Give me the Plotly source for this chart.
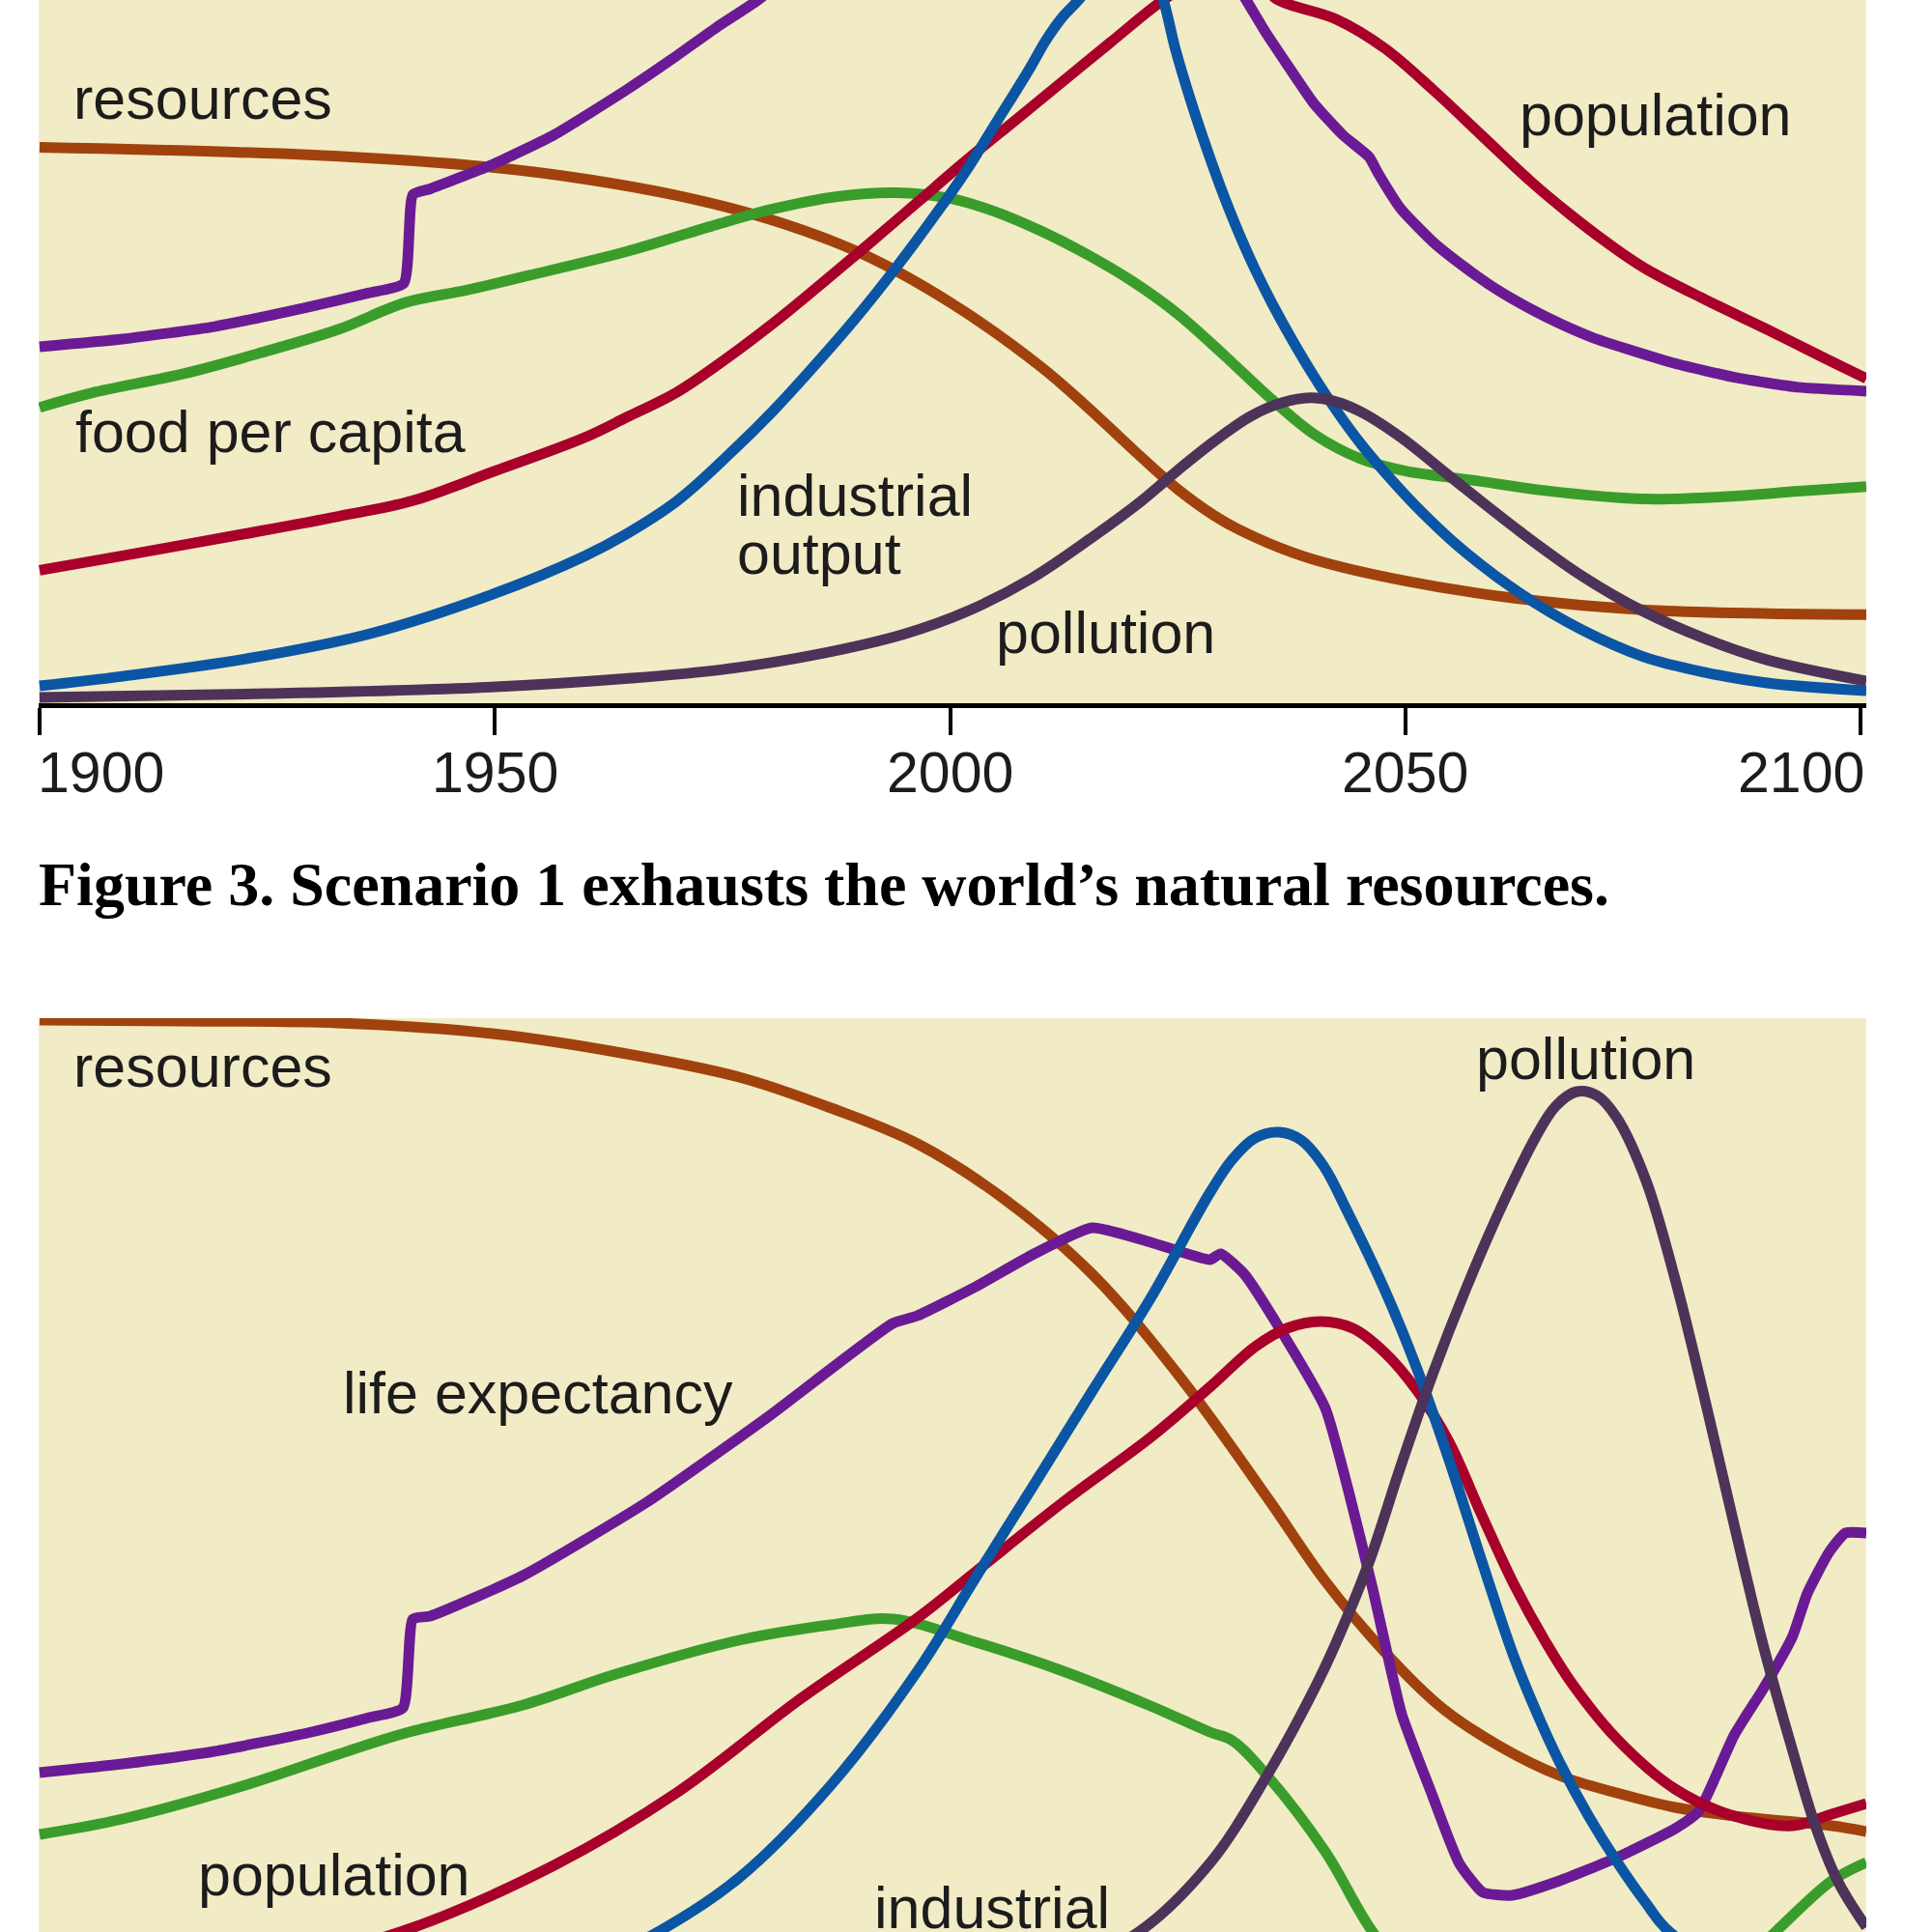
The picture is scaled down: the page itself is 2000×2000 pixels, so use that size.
import plotly.graph_objects as go

# ---------------- Panel 1: Scenario 1 (upper chart) ----------------
p1_resources_year = [1900, 1930, 1950, 1960, 1970, 1980, 1990, 2000, 2010, 2015, 2020, 2025, 2030, 2035,
                     2040, 2050, 2062, 2076, 2090, 2100.6]
p1_resources_val = [57.7, 56.9, 55.6, 54.4, 52.7, 50.3, 46.8, 41.6, 34.9, 30.8, 26.4, 22.2, 18.9, 16.6,
                    14.9, 12.7, 10.9, 9.7, 9.3, 9.2]

p1_life_year = [1900, 1909.1, 1919.2, 1929.4, 1936.2, 1940.0, 1941.0, 1942.9, 1949.7, 1956.5, 1964.5,
                1969.5, 1974.4, 1978.9, 1988, 1998, 2008, 2018, 2027, 2032.5, 2034.6, 2037.0, 2039.9,
                2043.1, 2046.0, 2047.0, 2049.5, 2053.0, 2056.6, 2060.1, 2063.6, 2067.2, 2070.7, 2079.5,
                2086.3, 2093.1, 2100.6]
p1_life_val = [37.0, 37.8, 39.1, 41.1, 42.6, 43.6, 52.8, 53.4, 55.9, 59.0, 63.7,
               66.9, 70.2, 73.0, 80, 86, 89, 88, 81, 73.0, 69.7, 66.3, 62.3,
               59.0, 56.7, 55.0, 51.3, 47.9, 45.2, 42.9, 41.0, 39.3, 37.9, 35.3,
               33.8, 32.8, 32.4]

p1_food_year = [1900, 1905.7, 1915.8, 1924.0, 1932.8, 1940.2, 1947.0, 1953.7, 1964.5, 1974.4, 1980.5,
                1987.6, 1994.0, 2000, 2005, 2010, 2015, 2020, 2025, 2030, 2035, 2040, 2045, 2050, 2057,
                2066.0, 2076.2, 2086.3, 2093.1, 2100.6]
p1_food_val = [30.7, 32.2, 34.2, 36.3, 38.8, 41.6, 42.9, 44.4, 46.9, 49.7, 51.3,
               52.6, 53.0, 52.4, 51.0, 49.0, 46.6, 43.8, 40.4, 36.2, 31.8, 27.9, 25.4, 24.1, 23.2,
               22.0, 21.2, 21.5, 22.0, 22.5]

p1_pop_year = [1900, 1909.1, 1922.6, 1932.8, 1940.9, 1949.7, 1959.9, 1964.5, 1970, 1975, 1980.5, 1985.8,
               1991.1, 1996.4, 2001.7, 2007.0, 2012.3, 2017.6, 2023.4, 2027, 2030.5, 2034, 2036.0,
               2042.4, 2047.7, 2053.0, 2058.3, 2063.6, 2068, 2072, 2076.2, 2082.9, 2089.7, 2096.5, 2100.6]
p1_pop_val = [13.8, 15.3, 17.6, 19.4, 21.0, 24.0, 27.6, 29.7, 32.3, 35.5, 39.4, 43.5,
              47.7, 52.0, 56.3, 60.4, 64.5, 68.6, 73.0, 75.0, 75.6, 74.6, 73.0,
              71.0, 68.0, 63.7, 59.0, 54.3, 50.8, 47.9, 45.2, 41.9, 38.8, 35.6, 33.7]

p1_ind_year = [1900, 1909.1, 1922.6, 1936.2, 1949.7, 1959.9, 1964.5, 1970, 1975, 1980.5, 1984.3, 1989.3,
               1994.2, 1999.2, 2001.7, 2005.2, 2008.8, 2010.5, 2012.3, 2014.1, 2017, 2019.5, 2021.5,
               2023.4, 2024.7, 2026.4, 2028.2, 2030.0, 2031.7, 2033.5, 2035.4, 2037.5, 2039.9, 2042.4,
               2045.2, 2047.7, 2051, 2055.8, 2062.6, 2069.4, 2076.2, 2082.9, 2089.7, 2100.6]
p1_ind_val = [1.8, 2.8, 4.6, 7.2, 11.3, 15.3, 17.6, 21.0, 25.2, 30.3, 34.2, 39.6,
              45.4, 51.8, 55.2, 60.5, 66.0, 68.8, 71.2, 73.0, 76.5, 78.5, 77.8,
              73.0, 68.0, 62.6, 57.5, 52.8, 48.8, 45.0, 41.4, 37.8, 34.0, 30.4,
              26.8, 24.0, 20.6, 16.3, 11.4, 7.6, 4.8, 3.2, 2.1, 1.3]

p1_poll_year = [1900, 1925, 1950, 1965, 1975, 1985, 1995, 2002, 2009, 2016, 2021, 2025, 2029, 2033,
                2036.5, 2039.5, 2042, 2045, 2049.5, 2054.8, 2062.6, 2069.4, 2076.2, 2082.9, 2089.7, 2100.6]
p1_poll_val = [0.6, 1.0, 1.7, 2.6, 3.5, 5.0, 7.2, 9.6, 13.0, 17.5, 21.0, 24.2, 27.2, 29.8,
               31.2, 31.7, 31.4, 30.3, 27.6, 23.6, 17.8, 13.2, 9.5, 6.7, 4.5, 2.3]

# ---------------- Panel 2: lower chart ----------------
p2_resources_year = [1900, 1915.8, 1932.8, 1949.7, 1963.3, 1976.8, 1986.9, 1996.4, 2005.9, 2015.6, 2025.2,
                     2034.8, 2041.2, 2047.7, 2054.0, 2060.4, 2066.9, 2073.2, 2079.6, 2086.1, 2096.8, 2100.6]
p2_resources_val = [104.4, 104.3, 104.1, 103.0, 101.1, 98.5, 95.3, 91.6, 85.9, 78.1, 67.5,
                    55.0, 46.3, 39.0, 33.2, 29.2, 26.2, 24.4, 22.9, 22.0, 21.0, 20.4]

p2_life_year = [1900, 1909.1, 1919.2, 1929.4, 1936.2, 1939.9, 1941.0, 1942.9, 1953.1, 1966.7, 1980.1,
                1993.7, 1996.4, 2002.8, 2009.2, 2015.6, 2022.0, 2028.5, 2029.7, 2032.3, 2036.1, 2041.2,
                2043.7, 2046.4, 2049.6, 2052.8, 2055.9, 2058.5, 2061.7, 2066.9, 2073.2, 2079.6, 2082.2,
                2086.1, 2089.3, 2092.5, 2094.1, 2096.5, 2098.3, 2100.6]
p2_life_val = [26.5, 27.4, 28.7, 30.6, 32.2, 33.2, 42.4, 42.7, 46.9, 54.5, 63.4,
               73.0, 73.8, 76.8, 80.2, 82.9, 81.4, 79.6, 80.2, 78.1, 72.6, 64.2,
               55.8, 45.5, 32.5, 24.5, 17.1, 14.1, 13.8, 15.3, 17.7, 20.7, 22.5,
               30.4, 35.2, 40.6, 45.0, 49.3, 51.3, 51.3]

p2_food_year = [1900, 1909.1, 1922.6, 1932.8, 1940.2, 1953.1, 1963.3, 1976.8, 1986.9, 1993.7, 2002.8,
                2012.4, 2022.0, 2028.5, 2031.0, 2034.8, 2041.2, 2046.4, 2052, 2060, 2070, 2080, 2086,
                2090.6, 2096.8, 2100.6]
p2_food_val = [20.1, 21.7, 25.2, 28.4, 30.6, 33.5, 36.7, 40.2, 41.8, 42.4, 40.0,
               37.0, 33.4, 30.7, 29.8, 26.2, 18.3, 10.0, 4, 0, -1, 2, 6,
               10.0, 15.3, 17.2]

p2_pop_year = [1900, 1920, 1939.6, 1956.5, 1970.1, 1983.5, 1996.4, 2002.8, 2012.4, 2022.0, 2028.5,
               2033.5, 2037.0, 2040.7, 2044.2, 2047.7, 2051.3, 2054.8, 2058.3, 2061.9, 2065.4, 2068.3,
               2073.2, 2079.6, 2086.1, 2092.5, 2096.8, 2100.6]
p2_pop_val = [2, 5.5, 10.0, 16.9, 24.5, 34.1, 42.5, 47.3, 54.5, 61.2, 66.4,
              70.6, 72.5, 73.2, 72.5, 70.0, 66.0, 60.7, 53.3, 46.0, 40.0, 35.7,
              30.0, 24.8, 22.0, 21.0, 22.2, 23.3]

p2_ind_year = [1900, 1930, 1950, 1960, 1967.9, 1976.8, 1986.9, 1996.4, 2002.8, 2009.2, 2015.6,
               2022.0, 2028.5, 2031.0, 2033.5, 2036.1, 2038.5, 2041.0, 2043.5, 2047.7, 2051.3, 2054.8,
               2058.3, 2061.9, 2064.5, 2066.9, 2070.1, 2073.2, 2076.4, 2079.0, 2090, 2100.6]
p2_ind_val = [1, 2, 4, 6.5, 10.0, 15.6, 25.2, 37.0, 46.7, 56.3, 66.0,
              75.6, 86.5, 90.0, 92.2, 92.8, 92.0, 89.3, 84.8, 76.5, 68.2, 58.8,
              48.6, 38.5, 32.5, 27.6, 22.0, 17.3, 13.0, 10.0, 4, 2]

p2_poll_year = [1900, 1950, 1990, 2005, 2014, 2020.7, 2028.5, 2034.8, 2039.9, 2042.4, 2046.0,
                2049.5, 2053.0, 2056.6, 2060.4, 2064.3, 2066.5, 2068.8, 2071.0, 2073.2, 2076.4, 2079.6,
                2082.8, 2086.1, 2089.3, 2092.5, 2095.0, 2097.5, 2100.6]
p2_poll_val = [0.5, 1, 2.5, 4.5, 7, 10.0, 17.1, 26.2, 35.0, 40.0, 48.3,
               58.3, 67.8, 76.5, 84.8, 92.3, 95.5, 97.0, 96.6, 94.3, 87.8, 77.6,
               65.4, 52.1, 39.6, 28.8, 21.0, 15.2, 10.5]

tick_years = [1900, 1950, 2000, 2050, 2100]
tick_text = ["1900", "1950", "2000", "2050", "2100"]
caption = "Figure 3. Scenario 1 exhausts the world\u2019s natural resources."

# labels: (text, year, value)
p1_labels = [("resources", 1903.5, 62.8), ("food per capita", 1903.7, 28.2),
             ("industrial", 1976.4, 21.6), ("output", 1976.4, 15.5),
             ("pollution", 2004.8, 7.3), ("population", 2062.3, 61.1)]
p2_labels = [("resources", 1903.5, 99.6), ("life expectancy", 1933.1, 65.8),
             ("population", 1917.2, 15.9), ("industrial", 1991.4, 12.5),
             ("pollution", 2057.5, 100.4)]

# ---------------- styling ----------------
C_RES = "#A1420E"
C_FOOD = "#3A9D2B"
C_LIFE = "#6B1A95"
C_POP = "#A8002B"
C_IND = "#0B55A5"
C_POLL = "#4D3359"
BG = "#F1ECC5"
LW = 11

fig = go.Figure()

def add(xs, ys, color, xa, ya, smooth=1.0):
    fig.add_trace(go.Scatter(x=xs, y=ys, mode="lines", xaxis=xa, yaxis=ya,
                             line=dict(color=color, width=LW, shape="spline", smoothing=smooth),
                             hoverinfo="skip", showlegend=False))

for xa, ya, d in [("x", "y", dict(res=(p1_resources_year, p1_resources_val), food=(p1_food_year, p1_food_val),
                                  life=(p1_life_year, p1_life_val), pop=(p1_pop_year, p1_pop_val),
                                  ind=(p1_ind_year, p1_ind_val), poll=(p1_poll_year, p1_poll_val))),
                  ("x2", "y2", dict(res=(p2_resources_year, p2_resources_val), food=(p2_food_year, p2_food_val),
                                    life=(p2_life_year, p2_life_val), pop=(p2_pop_year, p2_pop_val),
                                    ind=(p2_ind_year, p2_ind_val), poll=(p2_poll_year, p2_poll_val)))]:
    add(*d["res"], C_RES, xa, ya)
    add(*d["food"], C_FOOD, xa, ya)
    add(*d["life"], C_LIFE, xa, ya, smooth=0.5)
    add(*d["pop"], C_POP, xa, ya)
    add(*d["ind"], C_IND, xa, ya)
    add(*d["poll"], C_POLL, xa, ya)

XR = [1899.9, 2100.6]
fig.update_layout(
    width=2000, height=2000,
    margin=dict(l=40, r=68, t=0, b=0),
    paper_bgcolor="white", plot_bgcolor=BG,
    xaxis=dict(domain=[0, 1], anchor="y", range=XR, showgrid=False, zeroline=False,
               showline=True, linecolor="black", linewidth=5,
               ticks="outside", ticklen=28, tickwidth=4, tickcolor="black",
               tickvals=tick_years, showticklabels=False),
    yaxis=dict(domain=[0.636, 1.0], anchor="x", range=[0, 73.0], visible=False),
    xaxis2=dict(domain=[0, 1], anchor="y2", range=XR, visible=False),
    yaxis2=dict(domain=[0, 0.473], anchor="x2", range=[10, 104.6], visible=False),
)

ann = []
LBL_FONT = dict(family="Liberation Sans, Arial, sans-serif", size=61, color="#1c1c1c")
for t, xv, yv in p1_labels:
    ann.append(dict(text=t, x=xv, y=yv, xref="x", yref="y", xanchor="left", yanchor="middle",
                    showarrow=False, font=LBL_FONT))
for t, xv, yv in p2_labels:
    ann.append(dict(text=t, x=xv, y=yv, xref="x2", yref="y2", xanchor="left", yanchor="middle",
                    showarrow=False, font=LBL_FONT))
for i, (tv, tt) in enumerate(zip(tick_years, tick_text)):
    anchor = "left" if i == 0 else ("right" if i == len(tick_years) - 1 else "center")
    ann.append(dict(text=tt, x=tv, y=0.6, xref="x", yref="paper", xanchor=anchor, yanchor="middle",
                    xshift=(-4 if i == 0 else (6 if i == len(tick_years) - 1 else 0)),
                    showarrow=False,
                    font=dict(family="Liberation Sans, Arial, sans-serif", size=59, color="#1c1c1c")))
ann.append(dict(text="<b>" + caption + "</b>", x=-0.001, y=0.5425, xref="paper", yref="paper",
                xanchor="left", yanchor="middle", showarrow=False,
                font=dict(family="Liberation Serif, Times New Roman, serif", size=64, color="black")))
fig.update_layout(annotations=ann)

fig.write_html("out.html")
